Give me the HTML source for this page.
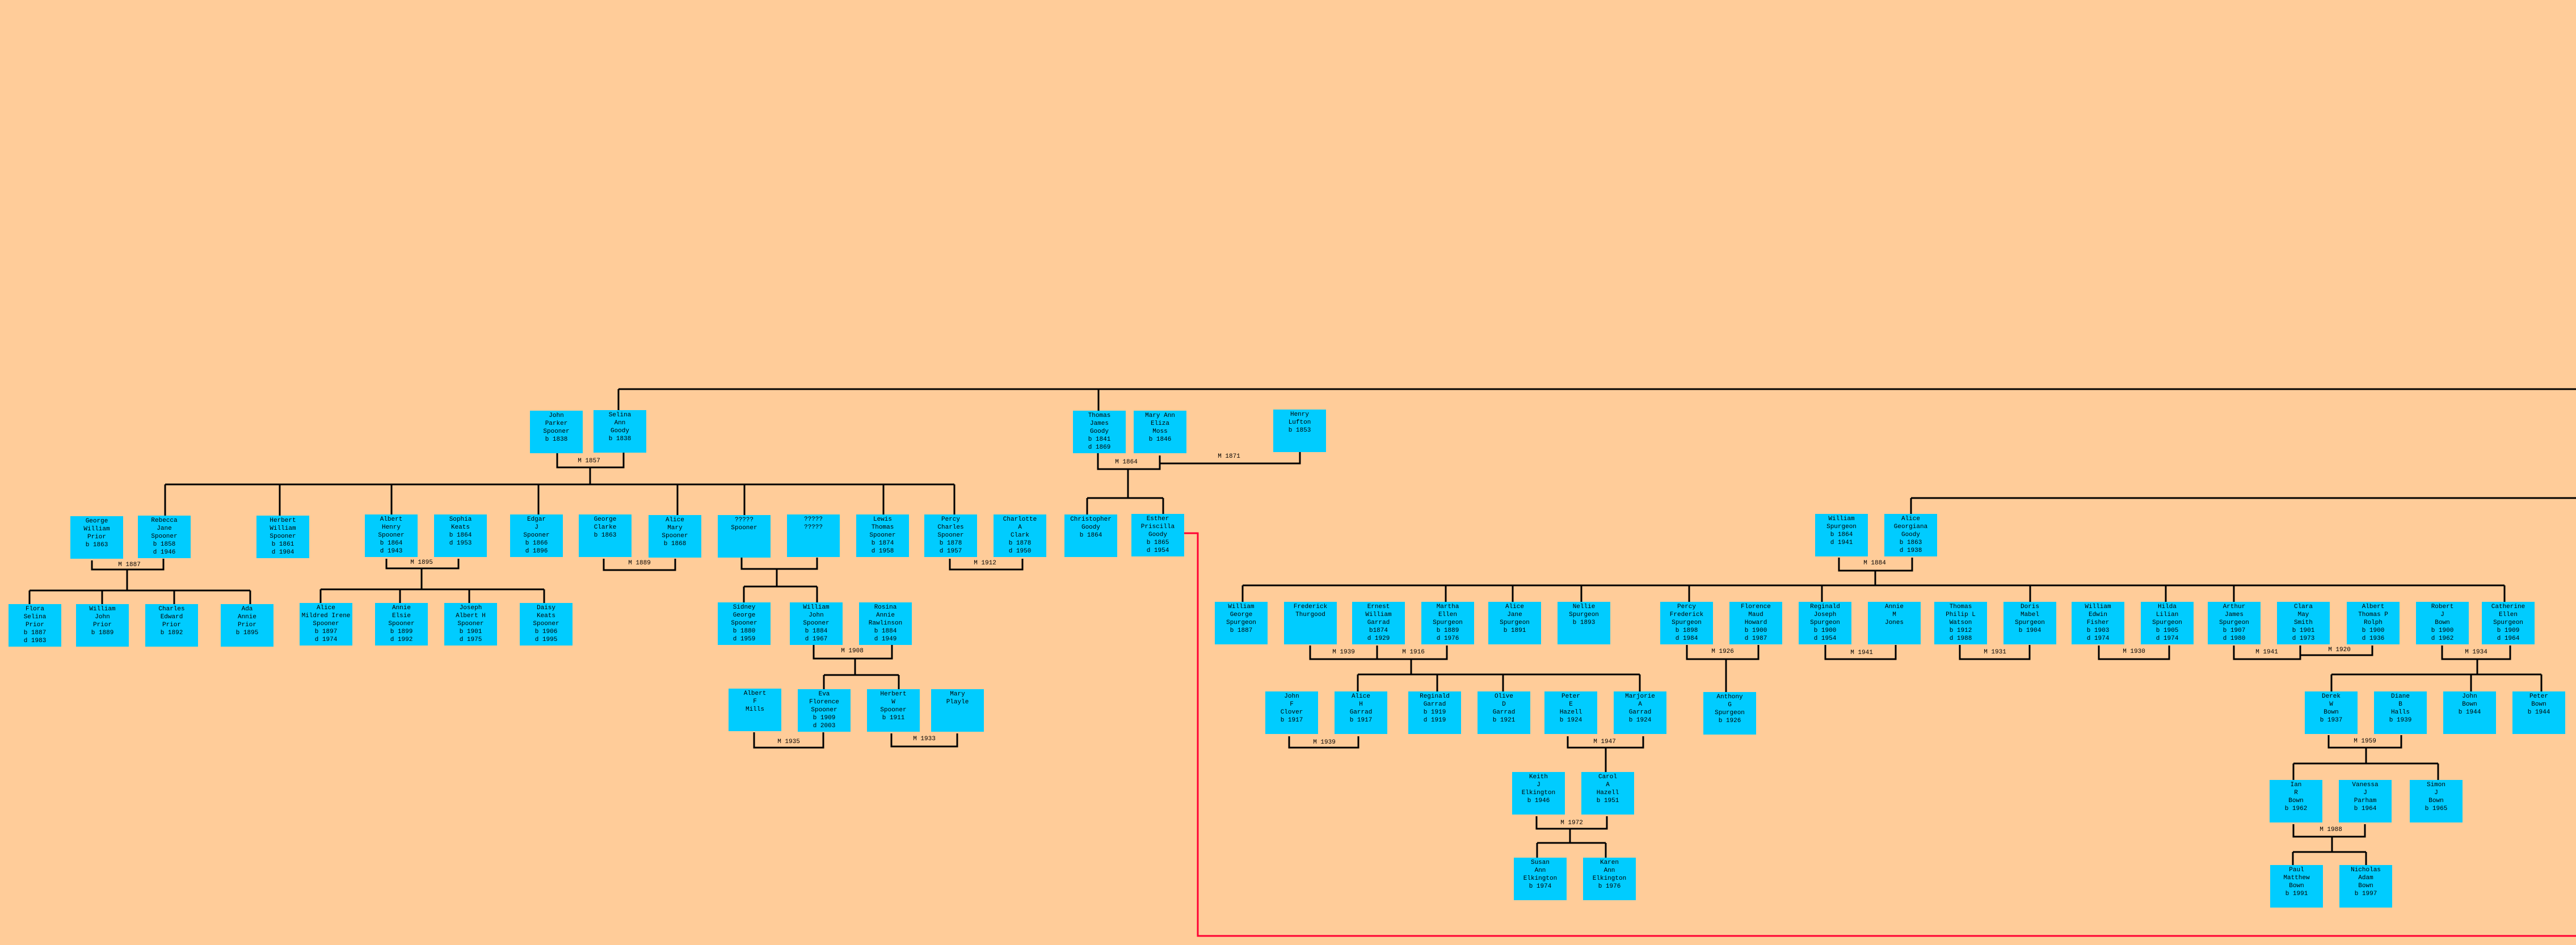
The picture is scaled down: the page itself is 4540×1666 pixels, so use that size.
<!DOCTYPE html>
<html><head><meta charset="utf-8"><style>
html,body{margin:0;padding:0}
body{width:4540px;height:1666px;background:#FFCC99;position:relative;overflow:hidden;font-family:"Liberation Mono",monospace;}
.b{position:absolute;width:93px;height:75px;background:#00CCFF;color:#000;font-size:11px;line-height:14px;text-align:center;padding-top:2px;box-sizing:border-box;white-space:nowrap;}
svg{position:absolute;left:0;top:0}
svg text{font-family:"Liberation Mono",monospace;font-size:11px;fill:#000;}
</style></head><body>
<svg width="4540" height="1666">
<g fill="none" stroke="#000" stroke-width="3">
<path d="M1090 686H4540M1090 686V723M1936 686V724M3368 878H4540M3368 878V906"/>
<path d="M982 799V824H1099V798M1040 824V854M291 854H1682M291 854V909M493 854V909M690 854V907M949 854V907M1194 854V908M1312 854V908M1557 854V907M1682 854V907"/>
<path d="M162 988V1004H288V985M224 1004V1041M52 1041H441M52 1041V1065M180 1041V1065M307 1041V1065M441 1041V1065"/>
<path d="M681 985V1002H808V985M743 1002V1039M565 1039H959M565 1039V1063M705 1039V1063M827 1039V1063M959 1039V1063"/>
<path d="M1064 985V1005H1190V985"/>
<path d="M1307 983V1003H1440V983M1369 1003V1034M1311 1034H1440M1311 1034V1062M1440 1034V1062"/>
<path d="M1434 1137V1161H1572V1137M1507 1161V1190M1452 1190H1584M1452 1190V1215M1584 1190V1215"/>
<path d="M1329 1291V1318H1451V1291M1571 1293V1316H1687V1293M1674 985V1004H1802V985"/>
<path d="M1935 799V827H2044V803M2044 817H2291V797M1988 827V878M1916 878H2050M1916 878V907M2050 878V906"/>
<path d="M3241 983V1006H3370V983M3305 1006V1032M2190 1032H4414M2190 1032V1061M2548 1032V1061M2666 1032V1061M2787 1032V1061M2977 1032V1061M3211 1032V1061M3578 1032V1061M3817 1032V1061M3937 1032V1061M4414 1032V1061"/>
<path d="M2309 1138V1162H2550V1138M2427 1138V1162M2487 1162V1189M2393 1189H2890M2393 1189V1219M2533 1189V1219M2649 1189V1219M2890 1189V1219"/>
<path d="M2973 1137V1162H3099V1137M3042 1162V1220M3217 1137V1162H3341V1137M3454 1137V1162H3577V1137"/>
<path d="M3699 1138V1162H3823V1138M3937 1138V1162H4054V1138M4054 1155H4181V1138M4304 1138V1162H4424V1138M4366 1162V1189M4109 1189H4479M4109 1189V1219M4355 1189V1219M4479 1189V1219"/>
<path d="M2272 1298V1318H2394V1298M2763 1298V1318H2896V1298M2830 1318V1361M2708 1439V1461H2832V1439M2767 1461V1486M2709 1486H2830M2709 1486V1512M2830 1486V1512"/>
<path d="M4104 1296V1318H4232V1296M4170 1318V1346M4042 1346H4297M4042 1346V1375M4297 1346V1375M4042 1453V1475H4168V1453M4110 1475V1502M4041 1502H4170M4041 1502V1525M4170 1502V1525"/>
</g>
<path d="M2086 940H2111V1650H4540" fill="none" stroke="#FF0033" stroke-width="3"/>
<g text-anchor="middle" dominant-baseline="middle">
<text x="1038" y="812">M 1857</text><text x="228" y="995">M 1887</text><text x="743" y="991">M 1895</text>
<text x="1127" y="992">M 1889</text><text x="1502" y="1147">M 1908</text><text x="1390" y="1307">M 1935</text>
<text x="1629" y="1302">M 1933</text><text x="1736" y="992">M 1912</text><text x="1985" y="814">M 1864</text>
<text x="2166" y="804">M 1871</text><text x="3304" y="992">M 1884</text><text x="2368" y="1149">M 1939</text>
<text x="2491" y="1149">M 1916</text><text x="3036" y="1148">M 1926</text><text x="3281" y="1150">M 1941</text>
<text x="3516" y="1149">M 1931</text><text x="3761" y="1148">M 1930</text><text x="3995" y="1149">M 1941</text>
<text x="4123" y="1145">M 1920</text><text x="4364" y="1149">M 1934</text><text x="2334" y="1308">M 1939</text>
<text x="2828" y="1307">M 1947</text><text x="2770" y="1450">M 1972</text><text x="4168" y="1306">M 1959</text>
<text x="4108" y="1462">M 1988</text>
</g>
</svg>
<div class="b" style="left:124px;top:910px">George<br>William<br>Prior<br>b 1863</div>
<div class="b" style="left:243px;top:909px">Rebecca<br>Jane<br>Spooner<br>b 1858<br>d 1946</div>
<div class="b" style="left:452px;top:909px">Herbert<br>William<br>Spooner<br>b 1861<br>d 1904</div>
<div class="b" style="left:643px;top:907px">Albert<br>Henry<br>Spooner<br>b 1864<br>d 1943</div>
<div class="b" style="left:765px;top:907px">Sophia<br>Keats<br>b 1864<br>d 1953</div>
<div class="b" style="left:899px;top:907px">Edgar<br>J<br>Spooner<br>b 1866<br>d 1896</div>
<div class="b" style="left:1020px;top:907px">George<br>Clarke<br>b 1863</div>
<div class="b" style="left:1143px;top:908px">Alice<br>Mary<br>Spooner<br>b 1868</div>
<div class="b" style="left:1265px;top:908px">?????<br>Spooner</div>
<div class="b" style="left:1387px;top:907px">?????<br>?????</div>
<div class="b" style="left:1509px;top:907px">Lewis<br>Thomas<br>Spooner<br>b 1874<br>d 1958</div>
<div class="b" style="left:1629px;top:907px">Percy<br>Charles<br>Spooner<br>b 1878<br>d 1957</div>
<div class="b" style="left:1751px;top:907px">Charlotte<br>A<br>Clark<br>b 1878<br>d 1950</div>
<div class="b" style="left:1876px;top:907px">Christopher<br>Goody<br>b 1864</div>
<div class="b" style="left:1994px;top:906px">Esther<br>Priscilla<br>Goody<br>b 1865<br>d 1954</div>
<div class="b" style="left:934px;top:724px">John<br>Parker<br>Spooner<br>b 1838</div>
<div class="b" style="left:1046px;top:723px">Selina<br>Ann<br>Goody<br>b 1838</div>
<div class="b" style="left:1891px;top:724px">Thomas<br>James<br>Goody<br>b 1841<br>d 1869</div>
<div class="b" style="left:1998px;top:724px">Mary Ann<br>Eliza<br>Moss<br>b 1846</div>
<div class="b" style="left:2244px;top:722px">Henry<br>Lufton<br>b 1853</div>
<div class="b" style="left:15px;top:1065px">Flora<br>Selina<br>Prior<br>b 1887<br>d 1983</div>
<div class="b" style="left:134px;top:1065px">William<br>John<br>Prior<br>b 1889</div>
<div class="b" style="left:256px;top:1065px">Charles<br>Edward<br>Prior<br>b 1892</div>
<div class="b" style="left:389px;top:1065px">Ada<br>Annie<br>Prior<br>b 1895</div>
<div class="b" style="left:528px;top:1063px">Alice<br>Mildred Irene<br>Spooner<br>b 1897<br>d 1974</div>
<div class="b" style="left:661px;top:1063px">Annie<br>Elsie<br>Spooner<br>b 1899<br>d 1992</div>
<div class="b" style="left:783px;top:1063px">Joseph<br>Albert H<br>Spooner<br>b 1901<br>d 1975</div>
<div class="b" style="left:916px;top:1063px">Daisy<br>Keats<br>Spooner<br>b 1906<br>d 1995</div>
<div class="b" style="left:1265px;top:1062px">Sidney<br>George<br>Spooner<br>b 1880<br>d 1959</div>
<div class="b" style="left:1392px;top:1062px">William<br>John<br>Spooner<br>b 1884<br>d 1967</div>
<div class="b" style="left:1514px;top:1062px">Rosina<br>Annie<br>Rawlinson<br>b 1884<br>d 1949</div>
<div class="b" style="left:1284px;top:1214px">Albert<br>F<br>Mills</div>
<div class="b" style="left:1406px;top:1215px">Eva<br>Florence<br>Spooner<br>b 1909<br>d 2003</div>
<div class="b" style="left:1528px;top:1215px">Herbert<br>W<br>Spooner<br>b 1911</div>
<div class="b" style="left:1641px;top:1215px">Mary<br>Playle</div>
<div class="b" style="left:3199px;top:906px">William<br>Spurgeon<br>b 1864<br>d 1941</div>
<div class="b" style="left:3321px;top:906px">Alice<br>Georgiana<br>Goody<br>b 1863<br>d 1938</div>
<div class="b" style="left:2141px;top:1061px">William<br>George<br>Spurgeon<br>b 1887</div>
<div class="b" style="left:2263px;top:1061px">Frederick<br>Thurgood</div>
<div class="b" style="left:2383px;top:1061px">Ernest<br>William<br>Garrad<br>b1874<br>d 1929</div>
<div class="b" style="left:2505px;top:1061px">Martha<br>Ellen<br>Spurgeon<br>b 1889<br>d 1976</div>
<div class="b" style="left:2623px;top:1061px">Alice<br>Jane<br>Spurgeon<br>b 1891</div>
<div class="b" style="left:2745px;top:1061px">Nellie<br>Spurgeon<br>b 1893</div>
<div class="b" style="left:2926px;top:1061px">Percy<br>Frederick<br>Spurgeon<br>b 1898<br>d 1984</div>
<div class="b" style="left:3048px;top:1061px">Florence<br>Maud<br>Howard<br>b 1900<br>d 1987</div>
<div class="b" style="left:3170px;top:1061px">Reginald<br>Joseph<br>Spurgeon<br>b 1900<br>d 1954</div>
<div class="b" style="left:3292px;top:1061px">Annie<br>M<br>Jones</div>
<div class="b" style="left:3409px;top:1061px">Thomas<br>Philip L<br>Watson<br>b 1912<br>d 1988</div>
<div class="b" style="left:3531px;top:1061px">Doris<br>Mabel<br>Spurgeon<br>b 1904</div>
<div class="b" style="left:3651px;top:1061px">William<br>Edwin<br>Fisher<br>b 1903<br>d 1974</div>
<div class="b" style="left:3773px;top:1061px">Hilda<br>Lilian<br>Spurgeon<br>b 1905<br>d 1974</div>
<div class="b" style="left:3891px;top:1061px">Arthur<br>James<br>Spurgeon<br>b 1907<br>d 1980</div>
<div class="b" style="left:4013px;top:1061px">Clara<br>May<br>Smith<br>b 1901<br>d 1973</div>
<div class="b" style="left:4136px;top:1061px">Albert<br>Thomas P<br>Rolph<br>b 1900<br>d 1936</div>
<div class="b" style="left:4258px;top:1061px">Robert<br>J<br>Bown<br>b 1900<br>d 1962</div>
<div class="b" style="left:4374px;top:1061px">Catherine<br>Ellen<br>Spurgeon<br>b 1909<br>d 1964</div>
<div class="b" style="left:2230px;top:1219px">John<br>F<br>Clover<br>b 1917</div>
<div class="b" style="left:2352px;top:1219px">Alice<br>H<br>Garrad<br>b 1917</div>
<div class="b" style="left:2482px;top:1219px">Reginald<br>Garrad<br>b 1919<br>d 1919</div>
<div class="b" style="left:2604px;top:1219px">Olive<br>D<br>Garrad<br>b 1921</div>
<div class="b" style="left:2722px;top:1219px">Peter<br>E<br>Hazell<br>b 1924</div>
<div class="b" style="left:2844px;top:1219px">Marjorie<br>A<br>Garrad<br>b 1924</div>
<div class="b" style="left:3002px;top:1220px">Anthony<br>G<br>Spurgeon<br>b 1926</div>
<div class="b" style="left:4062px;top:1219px">Derek<br>W<br>Bown<br>b 1937</div>
<div class="b" style="left:4184px;top:1219px">Diane<br>B<br>Halls<br>b 1939</div>
<div class="b" style="left:4306px;top:1219px">John<br>Bown<br>b 1944</div>
<div class="b" style="left:4428px;top:1219px">Peter<br>Bown<br>b 1944</div>
<div class="b" style="left:2665px;top:1361px">Keith<br>J<br>Elkington<br>b 1946</div>
<div class="b" style="left:2787px;top:1361px">Carol<br>A<br>Hazell<br>b 1951</div>
<div class="b" style="left:4000px;top:1375px">Ian<br>R<br>Bown<br>b 1962</div>
<div class="b" style="left:4122px;top:1375px">Vanessa<br>J<br>Parham<br>b 1964</div>
<div class="b" style="left:4247px;top:1375px">Simon<br>J<br>Bown<br>b 1965</div>
<div class="b" style="left:2668px;top:1512px">Susan<br>Ann<br>Elkington<br>b 1974</div>
<div class="b" style="left:2790px;top:1512px">Karen<br>Ann<br>Elkington<br>b 1976</div>
<div class="b" style="left:4001px;top:1525px">Paul<br>Matthew<br>Bown<br>b 1991</div>
<div class="b" style="left:4123px;top:1525px">Nicholas<br>Adam<br>Bown<br>b 1997</div>
</body></html>
